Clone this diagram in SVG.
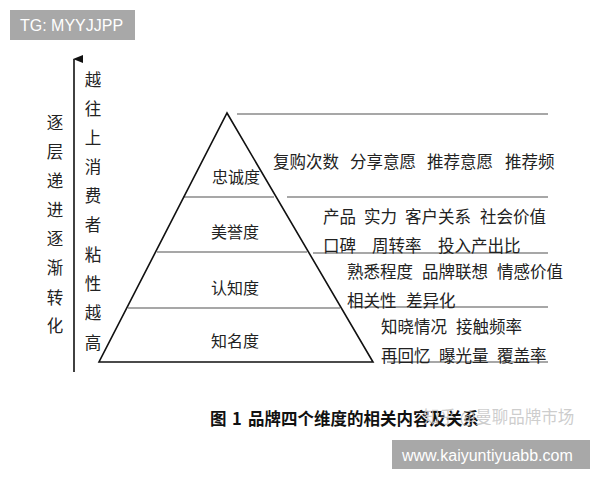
<svg xmlns="http://www.w3.org/2000/svg" width="600" height="480" viewBox="0 0 600 480">
<defs>
<style>
.t{font-family:"Noto Sans CJK SC","Noto Sans",sans-serif;fill:#222;font-size:16.5px;dominant-baseline:central}
.lbl{font-family:"Noto Sans CJK SC",sans-serif;fill:#222;font-size:16px;text-anchor:middle;dominant-baseline:central}
.v{font-family:"Noto Sans CJK SC",sans-serif;fill:#222;font-size:16.5px;text-anchor:middle;dominant-baseline:central}
.div{stroke:#8a8a8a;stroke-width:1.3;fill:none}
.box{fill:#a8a8a8}
.wt{font-family:"Liberation Sans","Noto Sans",sans-serif;fill:#fff;font-size:16px;dominant-baseline:central}
</style>
<marker id="ah" viewBox="0 0 8 10" refX="4" refY="1" markerWidth="8" markerHeight="10" markerUnits="userSpaceOnUse" orient="auto-start-reverse">
<path d="M0,10 L4,0 L8,10 Z" fill="#111"/>
</marker>
</defs>
<rect width="600" height="480" fill="#fff"/>

<g id="tg-badge">
<rect class="box" x="10" y="10" width="125" height="30"/>
<text class="wt" x="20" y="25.5">TG: MYYJJPP</text>
</g>

<g id="connectors">
<line x1="74" y1="372" x2="74" y2="59" stroke="#111" stroke-width="1.6" marker-end="url(#ah)"/>
<line class="div" x1="237" y1="114" x2="548" y2="114"/>
<line class="div" x1="183" y1="197" x2="274" y2="197"/>
<line class="div" x1="287" y1="197" x2="548" y2="197"/>
<line class="div" x1="157" y1="252" x2="307" y2="252"/>
<line class="div" x1="313" y1="253" x2="548" y2="253"/>
<line class="div" x1="128" y1="308" x2="340" y2="308"/>
<line class="div" x1="350" y1="307" x2="548" y2="307"/>
<line class="div" x1="387" y1="362" x2="548" y2="362"/>
</g>

<g id="pyramid">
<path d="M227,113 L373,362 L99,362 Z" fill="none" stroke="#111" stroke-width="1.6" stroke-linejoin="miter"/>
</g>

<g id="node-loyalty"><text class="lbl" x="236" y="176">忠诚度</text></g>
<g id="node-reputation"><text class="lbl" x="235" y="231">美誉度</text></g>
<g id="node-cognition"><text class="lbl" x="235" y="287">认知度</text></g>
<g id="node-awareness"><text class="lbl" x="235" y="340">知名度</text></g>

<g id="metrics-loyalty">
<text class="t" y="161"><tspan x="273">复购次数</tspan><tspan x="350">分享意愿</tspan><tspan x="427">推荐意愿</tspan><tspan x="505">推荐频</tspan></text>
</g>
<g id="metrics-reputation">
<text class="t" y="216"><tspan x="323">产品</tspan><tspan x="364">实力</tspan><tspan x="405">客户关系</tspan><tspan x="480">社会价值</tspan></text>
<text class="t" y="245"><tspan x="323">口碑</tspan><tspan x="372">周转率</tspan><tspan x="438">投入产出比</tspan></text>
</g>
<g id="metrics-cognition">
<text class="t" y="271"><tspan x="347">熟悉程度</tspan><tspan x="422">品牌联想</tspan><tspan x="497">情感价值</tspan></text>
<text class="t" y="300"><tspan x="347">相关性</tspan><tspan x="406">差异化</tspan></text>
</g>
<g id="metrics-awareness">
<text class="t" y="326"><tspan x="381">知晓情况</tspan><tspan x="456">接触频率</tspan></text>
<text class="t" y="355"><tspan x="381">再回忆</tspan><tspan x="439">曝光量</tspan><tspan x="497">覆盖率</tspan></text>
</g>

<g id="axis-label-right">
<text class="v" x="93" y="79">越</text>
<text class="v" x="93" y="108">往</text>
<text class="v" x="93" y="137">上</text>
<text class="v" x="93" y="166">消</text>
<text class="v" x="93" y="195">费</text>
<text class="v" x="93" y="224">者</text>
<text class="v" x="93" y="254">粘</text>
<text class="v" x="93" y="283">性</text>
<text class="v" x="93" y="312">越</text>
<text class="v" x="93" y="342">高</text>
</g>
<g id="axis-label-left">
<text class="v" x="55" y="122">逐</text>
<text class="v" x="55" y="151">层</text>
<text class="v" x="55" y="180">递</text>
<text class="v" x="55" y="209">进</text>
<text class="v" x="55" y="238">逐</text>
<text class="v" x="55" y="267">渐</text>
<text class="v" x="55" y="297">转</text>
<text class="v" x="55" y="325">化</text>
</g>

<g id="caption">
<text y="418" font-family="Noto Sans CJK SC,sans-serif" font-size="16.5" font-weight="bold" fill="#111" dominant-baseline="central"><tspan x="210">图</tspan><tspan x="232">1</tspan><tspan x="248">品牌四个维度的相关内容及关系</tspan></text>
</g>
<g id="watermark">
<text x="423" y="416" font-family="Noto Sans CJK SC,sans-serif" font-size="16.5" fill="#c4c4c4" fill-opacity="0.85" dominant-baseline="central">知乎 @曼聊品牌市场</text>
</g>
<g id="url-badge">
<rect class="box" x="392" y="440" width="198" height="29"/>
<text class="wt" x="402" y="455" font-size="16.5">www.kaiyuntiyuabb.com</text>
</g>
</svg>
